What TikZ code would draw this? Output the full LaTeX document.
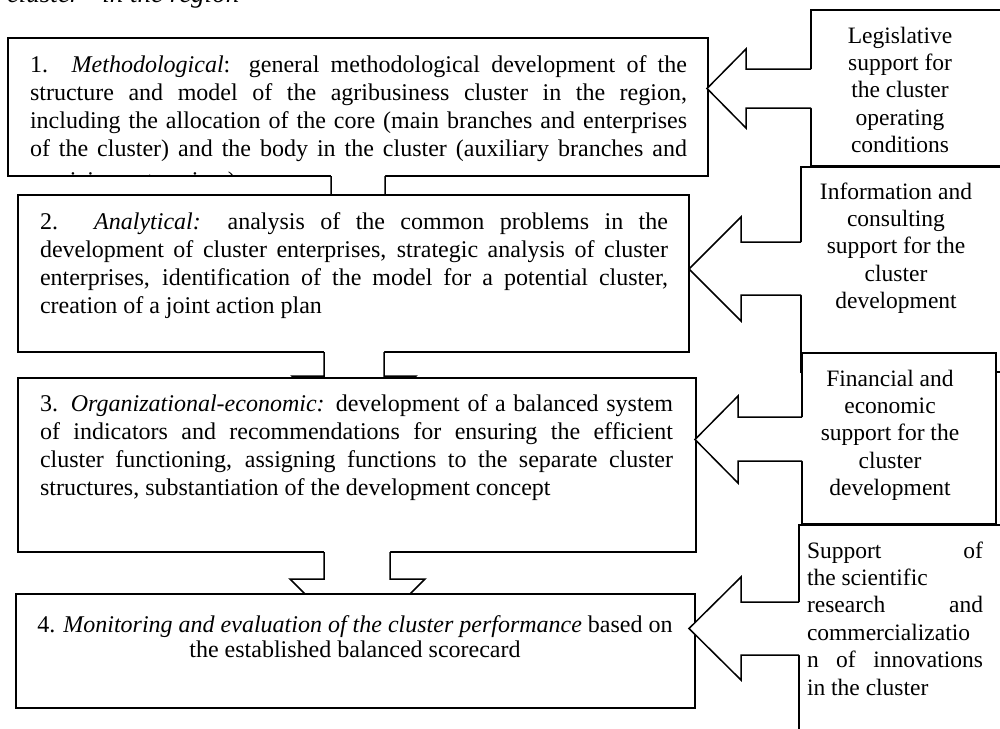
\documentclass[tikz,border=0pt]{standalone}
\usepackage{fontspec}
\setmainfont{Liberation Serif}
\newcommand\bigtxt{\fontsize{24}{28.3}\selectfont}
\newcommand\sidetxt{\fontsize{23.5}{27.4}\selectfont}
\newcommand\jline[1]{\makebox[\linewidth][s]{#1}}
\begin{document}
\begin{tikzpicture}[x=1pt,y=-1pt,
  bx/.style={draw=black, fill=white, line width=1.5pt, inner sep=0pt, outer sep=0pt, anchor=north west},
  ln/.style={draw=black, line width=1.5pt, line join=miter},
  wf/.style={fill=white},
  txt/.style={inner sep=0pt, outer sep=0pt, anchor=base west},
  ctxt/.style={inner sep=0pt, outer sep=0pt, anchor=base},
]
\useasboundingbox[fill=white] (0,0) rectangle (1000,728);

% caption fragment at the top
\node[txt, font=\fontsize{27}{30}\selectfont\itshape] (cap) at (7,2) {cluster” in the region};

% ---- box 1
\node[bx, minimum width=700pt, minimum height=138pt] (b1) at (8,38) {};
\begin{scope}
\clip (8,38) rectangle (708,176);
\node[txt] (t1) at (30,72) {\parbox[t]{657pt}{\bigtxt
\jline{1. \textit{Methodological}: general methodological development of the}\\
\jline{structure and model of the agribusiness cluster in the region,}\\
\jline{including the allocation of the core (main branches and enterprises}\\
\jline{of the cluster) and the body in the cluster (auxiliary branches and}\\[3.5pt]
servicing enterprises)}};
\end{scope}

% arrow 1 -> 2
\fill[wf] (331,174) -- (331,200) -- (298,200) -- (358,260) -- (418,200) -- (385,200) -- (385,174) -- cycle;
\draw[ln] (331,176) -- (331,200) -- (298,200) -- (358,260) -- (418,200) -- (385,200) -- (385,176);

% ---- box 2
\node[bx, minimum width=671pt, minimum height=157pt] (b2) at (18,195) {};
\node[txt] (t2) at (40,229) {\parbox[t]{628pt}{\bigtxt
\jline{2. \textit{Analytical:} analysis of the common problems in the}\\
\jline{development of cluster enterprises, strategic analysis of cluster}\\
\jline{enterprises, identification of the model for a potential cluster,}\\
creation of a joint action plan}};

% arrow 2 -> 3
\fill[wf] (324,350) -- (324,376) -- (292,376) -- (354,438) -- (416,376) -- (384,376) -- (384,350) -- cycle;
\draw[ln] (324,352) -- (324,376) -- (292,376) -- (354,438) -- (416,376) -- (384,376) -- (384,352);

% ---- box 3
\node[bx, minimum width=678pt, minimum height=174pt] (b3) at (18,378) {};
\node[txt] (t3) at (40,411) {\parbox[t]{633pt}{\bigtxt
\jline{3. \textit{Organizational-economic:} development of a balanced system}\\
\jline{of indicators and recommendations for ensuring the efficient}\\
\jline{cluster functioning, assigning functions to the separate cluster}\\
structures, substantiation of the development concept}};

% arrow 3 -> 4
\fill[wf] (324,550) -- (324,579) -- (290,579) -- (357.5,646.5) -- (425,579) -- (390,579) -- (390,550) -- cycle;
\draw[ln] (324,552) -- (324,579) -- (290,579) -- (357.5,646.5) -- (425,579) -- (390,579) -- (390,552);

% ---- box 4
\node[bx, minimum width=679pt, minimum height=114pt] (b4) at (16,594) {};
\node[ctxt] (t4) at (355,632) {\parbox[t]{670pt}{\centering\fontsize{24}{25}\selectfont
4. \textit{Monitoring and evaluation of the cluster performance} based on\\
the established balanced scorecard}};

% ---- right boxes
\node[bx, minimum width=200pt, minimum height=156pt] (r1) at (811,10) {};
\node[bx, minimum width=210pt, minimum height=205pt] (r2) at (801,167) {};
\node[bx, minimum width=194pt, minimum height=171pt] (r3) at (802,353) {};
\node[bx, minimum width=212pt, minimum height=215pt] (r4) at (799,525) {};

% ---- right arrows
\fill[wf] (813,69) -- (746,69) -- (746,49) -- (707,88.5) -- (746,128) -- (746,108) -- (813,108) -- cycle;
\draw[ln] (811,69) -- (746,69) -- (746,49) -- (707,88.5) -- (746,128) -- (746,108) -- (811,108);

\fill[wf] (803,242) -- (741,242) -- (741,217) -- (689,269) -- (741,321) -- (741,295) -- (803,295) -- cycle;
\draw[ln] (801,242) -- (741,242) -- (741,217) -- (689,269) -- (741,321) -- (741,295) -- (801,295);

\fill[wf] (804,417) -- (738,417) -- (738,396) -- (695,439.5) -- (738,483) -- (738,461) -- (804,461) -- cycle;
\draw[ln] (802,417) -- (738,417) -- (738,396) -- (695,439.5) -- (738,483) -- (738,461) -- (802,461);

\fill[wf] (801,602) -- (741,602) -- (741,577) -- (689,628.5) -- (741,680) -- (741,655) -- (801,655) -- cycle;
\draw[ln] (799,602) -- (741,602) -- (741,577) -- (689,628.5) -- (741,680) -- (741,655) -- (799,655);

% ---- right box texts
\node[ctxt] (s1) at (900,43) {\parbox[t]{180pt}{\centering\sidetxt
Legislative\\ support for\\ the cluster\\ operating\\ conditions}};
\node[ctxt] (s2) at (896,199) {\parbox[t]{185pt}{\centering\sidetxt
Information and\\ consulting\\ support for the\\ cluster\\ development}};
\node[ctxt] (s3) at (890,386) {\parbox[t]{185pt}{\centering\sidetxt
Financial and\\ economic\\ support for the\\ cluster\\ development}};
\node[txt] (s4) at (807,558) {\parbox[t]{176pt}{\sidetxt
\jline{Support of}\\
the scientific\\
\jline{research and}\\
commercializatio\\
\jline{n of innovations}\\
in the cluster}};
\end{tikzpicture}
\end{document}
